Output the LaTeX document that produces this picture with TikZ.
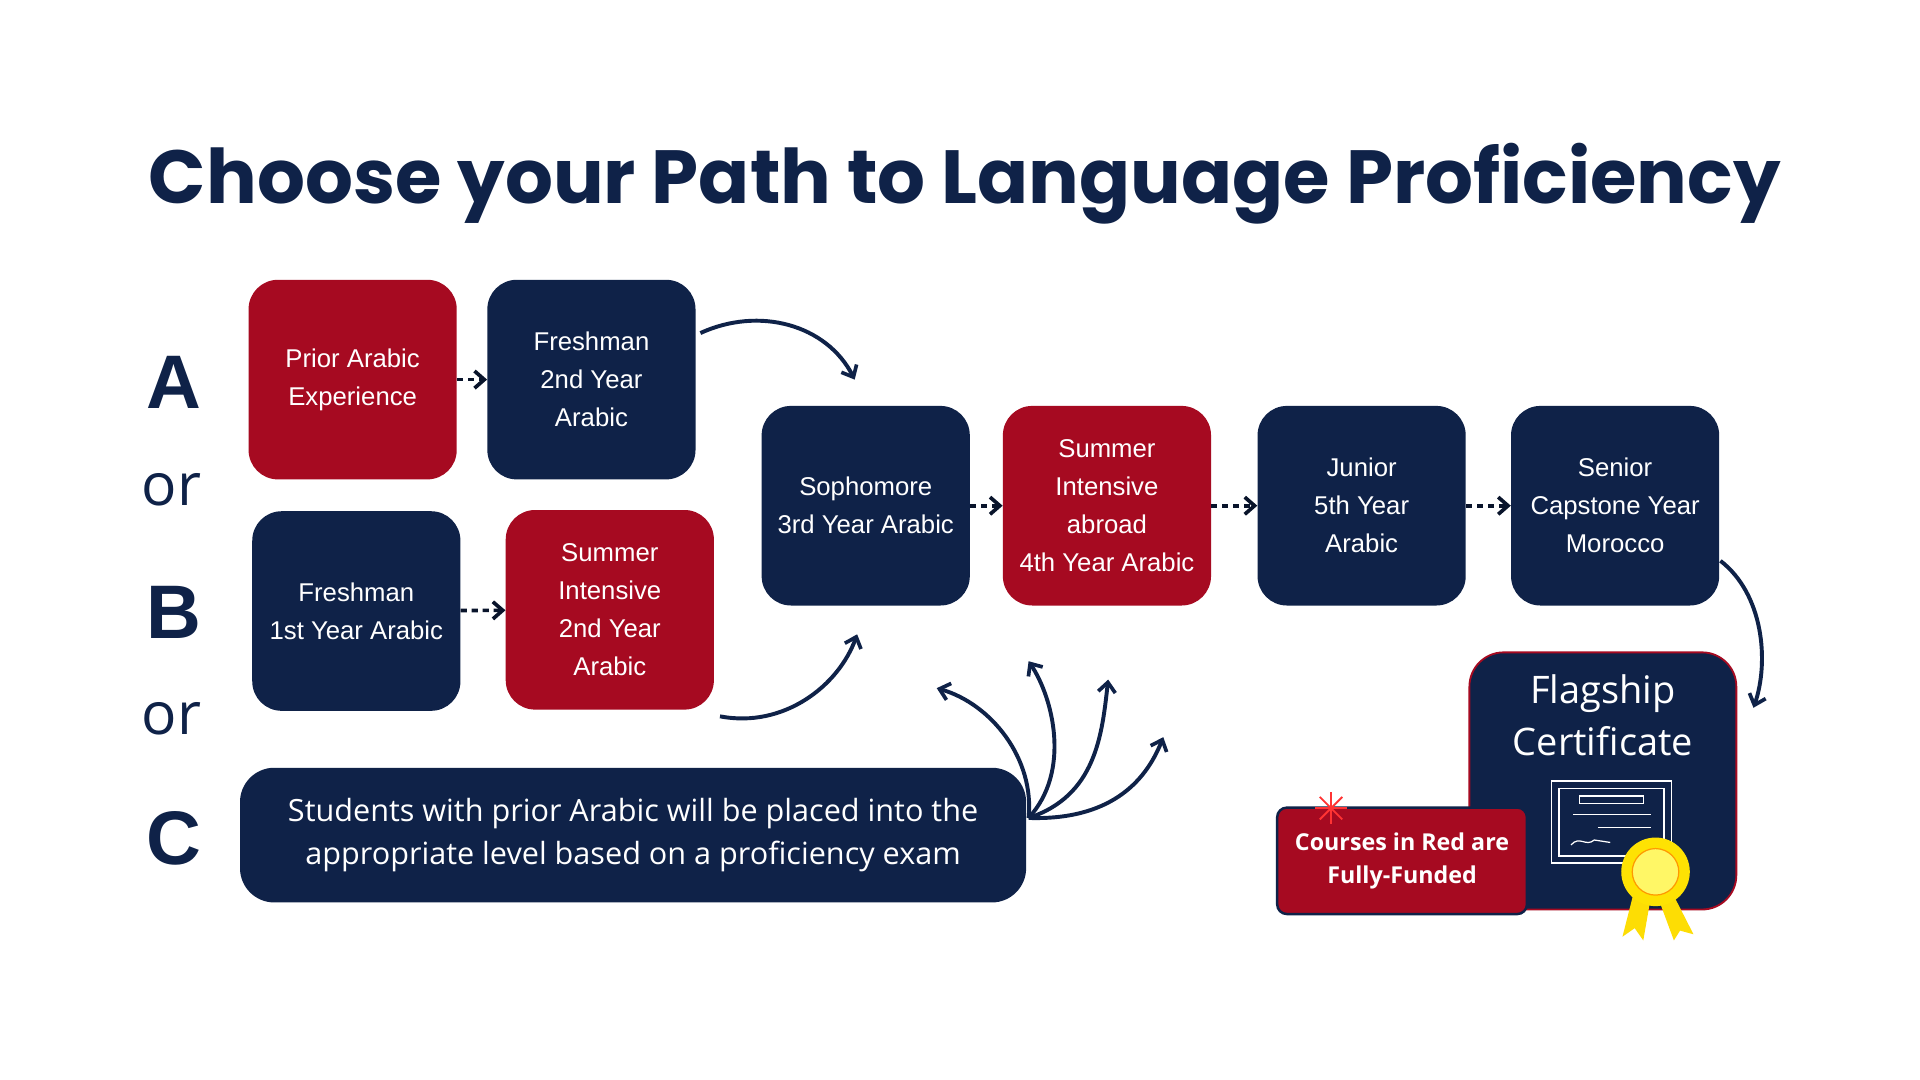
\documentclass[tikz,border=0pt]{standalone}
\usepackage{fontspec}
\setmainfont{Liberation Sans}
\newfontfamily\titlefont{Poppins}
\newfontfamily\opensans{Open Sans}
\usetikzlibrary{positioning}
\usetikzlibrary{arrows.meta}
\definecolor{navy}{HTML}{0F2248}
\definecolor{crimson}{HTML}{A60A21}
\tikzset{>={Straight Barb[length=8pt,width=14pt,line width=3pt]}}
\tikzset{
  course/.style={rounded corners=24pt, minimum width=170pt, minimum height=163pt,
    text=white, align=center, font=\fontsize{21}{31}\selectfont, inner sep=2pt},
  navybox/.style={course, fill=navy},
  redbox/.style={course, fill=crimson},
  dasharrow/.style={->, line width=3pt, dash pattern=on 5pt off 4pt, navy!60!black},
  curvearrow/.style={->, line width=3.2pt, navy},
  pathletter/.style={text=navy, font=\fontsize{62}{62}\selectfont\bfseries},
  orword/.style={text=navy, font=\opensans\fontsize{48}{48}\selectfont},
}
\begin{document}
\begin{tikzpicture}[x=1pt, y=-1pt]
\useasboundingbox[fill=white] (0,0) rectangle (1568,882);

% Title
\node (title) at (788,150) {\titlefont\bfseries\color{navy}\fontsize{61.5}{62}\selectfont Choose your Path to Language Proficiency};

% Path letters
\node[pathletter] (la) at (142,312) {A};
\node[orword] (or1) at (140,400) {or};
\node[pathletter] (lb) at (142,500) {B};
\node[orword] (or2) at (140,587) {or};
\node[pathletter] (lc) at (142,685) {C};

% ---------- Path A ----------
\node[redbox] (prior) at (288,310) {Prior Arabic\\Experience};
\node[navybox] (fresh2) at (483,310) {Freshman\\2nd Year\\Arabic};

% ---------- Path B ----------
\node[navybox] (fresh1) at (291,499) {Freshman\\1st Year Arabic};
\node[redbox] (summer2) at (498,498) {Summer\\Intensive\\2nd Year\\Arabic};

% ---------- Main path ----------
\node[navybox] (soph) at (707,413) {Sophomore\\3rd Year Arabic};
\node[redbox] (summer4) at (904,413) {Summer\\Intensive\\abroad\\4th Year Arabic};
\node[navybox] (junior) at (1112,413) {Junior\\5th Year\\Arabic};
\node[navybox] (senior) at (1319,413) {Senior\\Capstone Year\\Morocco};

% ---------- Path C ----------
\node[fill=navy, rounded corners=28pt, minimum width=642pt, minimum height=110pt,
  text=white, align=center, font=\opensans\fontsize{25}{35}\selectfont] (exam) at (517,682)
  {Students with prior Arabic will be placed into the\\appropriate level based on a proficiency exam};

% ---------- Certificate ----------
\node[fill=navy, draw=crimson, line width=1.5pt, rounded corners=28pt, minimum width=218pt,
  minimum height=210pt, anchor=north] (flag) at (1309,532) {};
\node[text=white, align=center, font=\opensans\fontsize{31}{42}\selectfont] (flagtext)
  at (1309,584) {Flagship\\Certificate};
\draw[white, line width=1.5pt] (1267,638) rectangle (1365,705);
\draw[white, line width=1.2pt] (1273,644) rectangle (1359,699);
\draw[white, line width=1.2pt] (1290,650) rectangle (1342,656);
\draw[white, line width=1.2pt] (1285,665) -- (1348,665) (1305,676) -- (1348,676);
\draw[white, line width=1pt] (1283,690) .. controls (1290,682) and (1295,692) .. (1302,686) -- (1315,688);
% ribbon
\fill[yellow!80!orange] (1337,718) -- (1325,765) -- (1335,758) -- (1342,768) -- (1350,722) -- cycle;
\fill[yellow!80!orange] (1360,718) -- (1383,763) -- (1372,760) -- (1367,768) -- (1350,722) -- cycle;
\fill[yellow!85!orange] (1352,712) circle (28pt);
\fill[yellow!60!white] (1352,712) circle (19pt);
\draw[orange!80!yellow, line width=1pt] (1352,712) circle (19pt);

% Legend
\node[fill=crimson, draw=navy, line width=2pt, rounded corners=8pt, minimum width=204pt,
  minimum height=87pt, text=white, align=center,
  font=\opensans\bfseries\fontsize{19}{27}\selectfont] (legend) at (1145,703)
  {Courses in Red are\\Fully-Funded};
\foreach \a in {0,45,...,315}{
  \draw[red!80!white, line width=1.5pt] (1087,660) -- ++(\a:13pt);
}

% ---------- Connectors ----------
\draw[dasharrow] (prior) -- (fresh2);
\draw[dasharrow] (fresh1) -- (summer2);
\draw[dasharrow] (soph) -- (summer4);
\draw[dasharrow] (summer4) -- (junior);
\draw[dasharrow] (junior) -- (senior);

\coordinate (a1) at (572,272);
\coordinate (a2) at (698,310);
\draw[curvearrow] (a1) .. controls (620,250) and (675,265) .. (a2);
\coordinate (b1) at (588,585);
\coordinate (b2) at (700,518);
\draw[curvearrow] (b1) .. controls (640,595) and (685,560) .. (b2);

\coordinate (c0) at (840,668);
\coordinate (c1) at (765,562);
\coordinate (c2) at (840,540);
\coordinate (c3) at (905,555);
\coordinate (c4) at (950,602);
\draw[curvearrow] (c0) .. controls (845,620) and (810,575) .. (c1);
\draw[curvearrow] (c0) .. controls (875,630) and (860,570) .. (c2);
\draw[curvearrow] (c0) .. controls (895,650) and (900,600) .. (c3);
\draw[curvearrow] (c0) .. controls (905,670) and (935,640) .. (c4);

\coordinate (s1) at (1405,458);
\coordinate (s2) at (1432,578);
\draw[curvearrow] (s1) .. controls (1440,485) and (1445,540) .. (s2);
\end{tikzpicture}
\end{document}
